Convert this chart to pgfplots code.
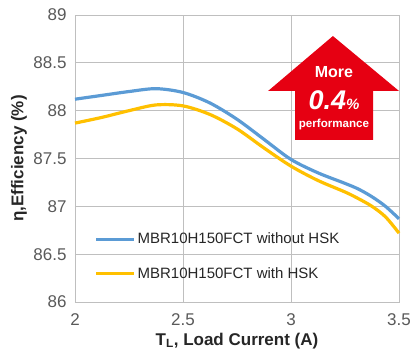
\documentclass[border=0pt]{standalone}
\usepackage{pgfplots}
\pgfplotsset{compat=1.18}
\usepackage{fontspec}
\setmainfont{Liberation Sans}
\definecolor{sblue}{HTML}{5B9BD5}
\definecolor{syellow}{HTML}{FFC000}
\definecolor{gridgray}{HTML}{BFBFBF}
\definecolor{ticktext}{HTML}{595959}
\definecolor{labeltext}{HTML}{262626}
\definecolor{arrowred}{HTML}{E60012}
\begin{document}
\begin{tikzpicture}
\begin{axis}[
  name=ax,
  scale only axis, width=324pt, height=287pt,
  xmin=2, xmax=3.5, ymin=86, ymax=89,
  xtick={2,2.5,3,3.5}, ytick={86,86.5,87,87.5,88,88.5,89},
  grid=major, major grid style={gridgray, line width=0.9pt},
  axis line style={gridgray, line width=0.9pt},
  tick style={draw=none},
  /pgf/number format/assume math mode=true,
  ticklabel style={font=\fontsize{17}{20}\selectfont, text=ticktext},
  xticklabel style={yshift=-8pt},
  yticklabel style={xshift=-5pt},
  xlabel={T\textsubscript{L}, Load Current (A)},
  ylabel={η,Efficiency (\%)},
  label style={font=\bfseries\fontsize{17}{20}\selectfont, text=labeltext},
  xlabel style={at={(axis description cs:0.5,-0.135)}, anchor=center},
  ylabel style={at={(axis description cs:-0.173,0.5)}, anchor=center},
  legend style={draw=none, fill=none, at={(axis description cs:0.05,0.255)}, anchor=north west,
    font=\fontsize{15}{18}\selectfont, text=labeltext, row sep=18pt},
  legend cell align=left,
  legend image code/.code={\draw[#1] (0pt,0pt) -- (38pt,0pt);},
  clip=false,
]
\addplot[sblue, line width=3.2pt, smooth] coordinates {
 (2,88.12) (2.125,88.16) (2.25,88.20) (2.375,88.23) (2.5,88.19) (2.625,88.08)
 (2.75,87.91) (2.875,87.70) (3,87.49) (3.125,87.35) (3.25,87.24) (3.3125,87.18) (3.375,87.10) (3.4375,87.00) (3.5,86.87)};
\addlegendentry{MBR10H150FCT without HSK}
\addplot[syellow, line width=3.2pt, smooth] coordinates {
 (2,87.87) (2.125,87.93) (2.25,88.00) (2.375,88.06) (2.5,88.05) (2.625,87.96)
 (2.75,87.81) (2.875,87.61) (3,87.42) (3.125,87.27) (3.25,87.15) (3.3125,87.08) (3.375,87.00) (3.4375,86.89) (3.5,86.72)};
\addlegendentry{MBR10H150FCT with HSK}
\fill[arrowred] (axis cs:3.019,87.694) -- (axis cs:3.019,88.206) -- (axis cs:2.894,88.206)
  -- (axis cs:3.194,88.78) -- (axis cs:3.5,88.206) -- (axis cs:3.380,88.206)
  -- (axis cs:3.380,87.694) -- cycle;
\node[text=white, font=\bfseries\fontsize{16}{18}\selectfont] at (axis cs:3.199,88.404) {More};
\node[text=white, font=\bfseries\itshape\fontsize{27}{30}\selectfont] at (axis cs:3.199,88.11) {0.4{\fontsize{15}{18}\selectfont\%}};
\node[text=white, font=\bfseries\fontsize{11.6}{14}\selectfont] at (axis cs:3.199,87.86) {performance};
\end{axis}
\pgfresetboundingbox
\path[use as bounding box] ([shift={(-75pt,-60pt)}]ax.south west) rectangle ([shift={(15pt,15pt)}]ax.north east);
\end{tikzpicture}
\end{document}
